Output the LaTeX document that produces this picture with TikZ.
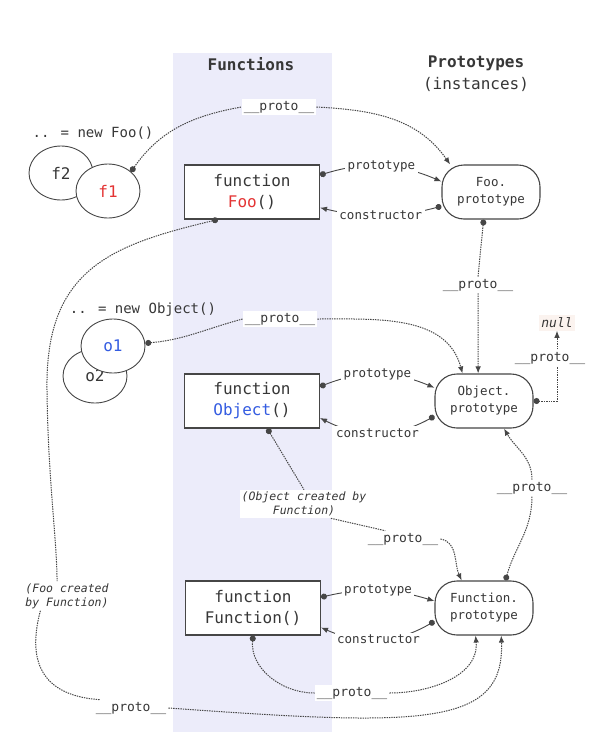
\documentclass[tikz,border=0pt]{standalone}
\usepackage{fontspec}
\setmainfont{DejaVu Sans Mono}
\usetikzlibrary{arrows.meta,shapes.geometric}

\definecolor{colshade}{RGB}{236,236,250}
\definecolor{ink}{RGB}{55,55,55}
\definecolor{wire}{RGB}{70,70,70}
\definecolor{fooc}{RGB}{228,52,52}
\definecolor{objc}{RGB}{52,92,225}
\definecolor{nullbg}{RGB}{251,243,239}
\newcommand{\pr}{\_\_proto\_\_}

\tikzset{
  fnbox/.style={draw=wire, line width=1.1pt, fill=white, minimum width=135pt,
    minimum height=54pt, align=center, text=ink, font=\fontsize{16}{21}\selectfont},
  protobox/.style={draw=wire, line width=1.1pt, fill=white, rounded corners=22pt,
    minimum width=98pt, minimum height=54pt, align=center, text=ink,
    font=\fontsize{12.5}{17}\selectfont},
  inst/.style={ellipse, draw=wire, line width=0.9pt, fill=white, minimum width=64pt,
    minimum height=54pt, inner sep=0pt, text=ink, font=\fontsize{16}{19}\selectfont},
  lbl/.style={fill=white, inner sep=2.5pt, text=ink, font=\fontsize{12.5}{15}\selectfont},
  plbl/.style={fill=white, inner sep=2pt, text=ink, font=\fontsize{13}{15}\selectfont},
  note/.style={fill=white, inner sep=2pt, align=center, text=ink,
    font=\fontsize{11.5}{14}\selectfont\itshape},
  head/.style={text=ink, align=center, font=\fontsize{16}{22}\selectfont},
  link/.style={draw=wire, line width=0.9pt},
  proto/.style={draw=wire, line width=1pt, dash pattern=on 1.4pt off 1pt},
  src/.style={arrows={Circle[length=6pt]-}},
  tgt/.style={arrows={-Latex[length=7pt,width=5.5pt]}},
  both/.style={arrows={Circle[length=6pt]-Latex[length=7pt,width=5.5pt]}},
}

\begin{document}
\begin{tikzpicture}[x=1pt,y=-1pt]
\useasboundingbox (0,0) rectangle (600,742);
\fill[white] (0,0) rectangle (600,742);
\fill[colshade] (173,53) rectangle (332,732);

% headings
\node[head] (fnhead) at (251,64) {\bfseries Functions};
\node[head] (prhead) at (476,74) {{\bfseries Prototypes}\\(instances)};

% functions and prototypes
\node[fnbox] (foofn) at (252,192) {function\\{\color{fooc}Foo}()};
\node[fnbox] (objfn) at (252,401) {function\\{\color{objc}Object}()};
\node[fnbox] (funfn) at (253,608) {function\\Function()};
\node[protobox] (foop) at (491,192) {Foo.\\prototype};
\node[protobox] (objp) at (484,401) {Object.\\prototype};
\node[protobox] (funp) at (484,608) {Function.\\prototype};

% instances
\node[text=ink, font=\fontsize{14}{16}\selectfont] (newfoo) at (93,133) {.. = new Foo()};
\node[inst] (f2) at (61,173) {f2};
\node[inst, text=fooc] (f1) at (108,191) {f1};
\node[text=ink, font=\fontsize{14}{16}\selectfont] (newobj) at (143,310) {.. = new Object()};
\node[inst] (o2) at (95,376) {o2};
\node[inst, text=objc] (o1) at (113,346) {o1};
\node[fill=nullbg, inner sep=2.5pt, text=ink, font=\fontsize{13}{15}\selectfont\itshape] (nul) at (557,323) {null};

% __proto__ labels
\node[plbl] (pr1) at (279,107) {\pr};
\node[plbl] (pr2) at (478,285) {\pr};
\node[plbl] (pr3) at (280,319) {\pr};
\node[plbl] (pr5) at (532,488) {\pr};
\node[note] (oc) at (304,504) {(Object created by\\Function)};
\node[plbl] (pr6) at (403,539) {\pr};
\node[plbl] (pr7) at (352,693) {\pr};
\node[note] (fc) at (67,596) {(Foo created\\by Function)};
\node[plbl] (pr8) at (131,708) {\pr};

% prototype / constructor
\draw[link,both] (foofn.14) to[bend left=20] node[lbl] (fooprot) {prototype} (foop.168);
\draw[link,both] (foop.196) to[bend left=14] node[lbl] (foocons) {constructor} (foofn.-13);
\draw[link,both] (objfn.12) to[bend left=22] node[lbl] (objprot) {prototype} (objp.165);
\draw[link,both] (objp.197) to[bend left=28] node[lbl] (objcons) {constructor} (objfn.-14);
\draw[link,both] (funfn.9) to[bend left=15] node[lbl] (funprot) {prototype} (funp.172);
\draw[link,both] (funp.195) to[bend left=27] node[lbl] (funcons) {constructor} (funfn.-16);

% __proto__ chains
\draw[proto,src] (f1.40) to[out=55,in=190] (pr1.west);
\draw[proto,tgt] (pr1.east) to[out=-3,in=125] (foop.146);
\draw[proto,src] (foop.255) -- (pr2.north);
\draw[proto,tgt] (pr2.south) -- (objp.102);
\draw[proto,src] (o1.5) to[out=5,in=195] (pr3.west);
\draw[proto,tgt] (pr3.east) to[out=0,in=105] (objp.128);
\draw[proto,both] (objp.east) -| (nul.south);
\node[plbl] (pr4) at (550,358) {\pr};
\draw[proto,src] (funp.52) to[out=75,in=-90] (pr5.south);
\draw[proto,tgt] (pr5.north) to[out=90,in=-60] (objp.-54);
\draw[proto,src] (objfn.-61) -- (oc.north);
\draw[proto] (oc.-28) -- (pr6.155);
\draw[proto,tgt] (pr6.east) to[out=-10,in=115] (funp.129);
\draw[proto,src] (funfn.south) to[out=-95,in=180] (pr7.west);
\draw[proto,tgt] (pr7.east) to[out=0,in=-85] (funp.-107);
\draw[proto,src] (foofn.-141) .. controls (110,245) and (45,270) .. (47,390)
  .. controls (48,480) and (57,540) .. (fc.124);
\draw[proto] (fc.-151) .. controls (30,650) and (32,695) .. (pr8.165);
\draw[proto,tgt] (pr8.east) .. controls (420,726) and (505,728) .. (funp.-58);
\end{tikzpicture}
\end{document}
